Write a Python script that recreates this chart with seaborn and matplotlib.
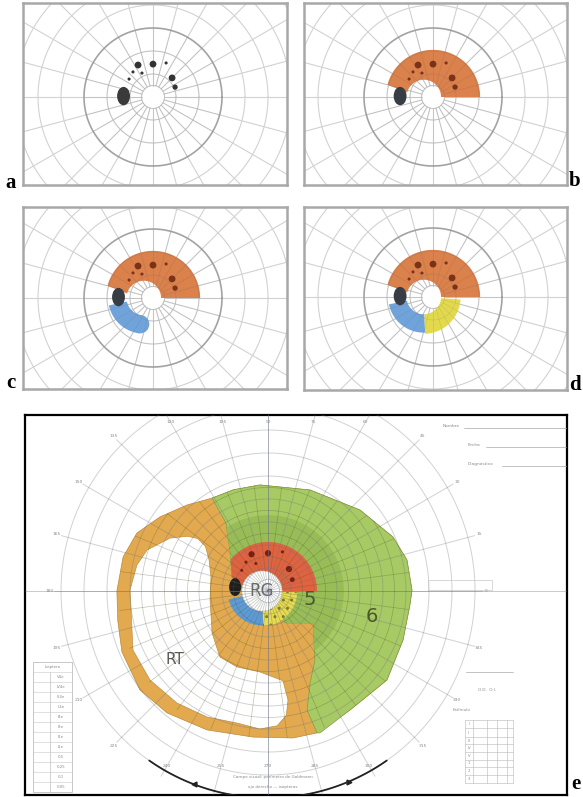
import numpy as np
import matplotlib
matplotlib.use("Agg")
import matplotlib.pyplot as plt
import seaborn as sns
from matplotlib.patches import Polygon, Ellipse, Circle, Rectangle

sns.set_theme(style="white")
plt.rcParams["font.family"] = ["DejaVu Sans"]

W, H = 583, 797
SCALE = 2.3  # px per degree of visual field

# --- small charts a-d (frame in px, fixation point in px) ---
PANEL_KEYS = ["a", "b", "c", "d"]
PANEL_BOX = [(23, 3, 287, 185), (304, 3, 567, 185), (23, 207, 287, 389), (304, 207, 567, 390)]
PANEL_CENTER = [(153, 97), (433, 97), (153, 298), (433, 297)]
PANEL_STAGE = [0, 1, 2, 3]
LABEL_POS = [(5, 188), (569, 186), (6, 388), (569, 390)]
BLIND_X = [-12.8, -14.3, -15.0, -14.3]

# central scotoma points (deg)
SCOTOMA_X = [-6.5, 0.0, 5.7, 8.3, 9.6, -10.4, -8.7, -4.8]
SCOTOMA_Y = [13.9, 14.3, 14.8, 8.3, 4.3, 7.8, 10.9, 10.4]
SCOTOMA_SIZE = [3, 3, 1, 3, 2, 1, 1, 1]

# zones of the small charts: superior (orange), inferonasal (blue), inferotemporal (yellow)
ZONE_START = [0, 192, 272]
ZONE_END = [165, 272, 356]
ZONE_END_C = 262
ZONE_R_OUT = [20.5, 15.5, 16.0]
HOLE_X, HOLE_R = -4.0, 7.5

# --- big chart e (deg) ---
E_BOX = (25, 415, 567, 795)
E_CENTER = (268, 591)
E_RINGS = [10, 20, 30, 40, 50, 60, 70, 80, 90]
E_ORANGE_OUTER = [(-24.3, 40.4), (-35.2, 37.4), (-47.0, 32.2), (-57.0, 25.2), (-63.0, 14.8),
                  (-65.7, 0.0), (-65.3, -13.0), (-63.5, -26.5), (-55.7, -43.0), (-43.9, -53.0),
                  (-26.5, -60.4), (-6.5, -63.5), (10.9, -63.9), (21.3, -61.7)]
E_GREEN_OUTER = [(22.6, -61.7), (35.7, -51.7), (51.7, -38.7), (58.7, -21.3), (61.7, -6.0),
                 (62.6, 0.4), (60.4, 13.5), (54.3, 23.5), (40.0, 35.2), (18.3, 43.9),
                 (-3.5, 46.1), (-15.0, 44.0), (-24.3, 40.4)]
E_GREEN_INNER = [(-24.3, 40.4), (-18.3, 29.6), (-16.5, 17.4), (-15.7, 6.0), (-12.0, 0.0),
                 (-3.0, 0.0), (4.0, -12.0), (8.0, -13.9), (19.6, -13.9), (20.4, -30.0),
                 (18.3, -40.0), (17.0, -51.7), (21.3, -61.7), (22.6, -61.7)]
E_RT_HOLE = [(-60.0, 0.4), (-58.7, -25.7), (-51.3, -38.7), (-39.6, -48.7), (-26.5, -54.8),
             (-13.5, -57.4), (-3.5, -60.0), (4.0, -58.6), (8.0, -54.0), (8.7, -47.4), (6.5, -39.0),
             (-3.5, -35.2), (-13.5, -33.0), (-20.9, -28.7), (-24.3, -18.3), (-25.2, -3.9),
             (-24.8, 6.1), (-25.6, 13.5), (-27.2, 19.4), (-30.5, 22.8), (-35.0, 23.8), (-42.6, 23.0),
             (-52.6, 17.8), (-57.0, 11.3)]
E_ZONE5_R = 33
E_RG_X, E_RG_R = -2.6, 8.7
E_RED = (0, 172, 21.3)
E_BLUE = (194, 272, 15.0)
E_YELLOW = (272, 358, 15.3)
E_BLIND = (-14.3, 1.7)
E_MERIDIAN_LABELS = list(range(0, 360, 15))

ORANGE_S = "#d97a42"
BLUE_S = "#6fa3da"
YELLOW_S = "#e2da4c"
ORANGE_E = "#e3a94f"
GREEN_E = "#a8ca64"
GREEN5_E = "#98bd57"
RED_E = "#e0623f"
BLUE_E = "#5d9bd6"
YELLOW_E = "#e6dc4f"


def px_axes(fig, box, zorder=1):
    x0, y0, x1, y1 = box
    return fig.add_axes([x0 / W, 1 - y1 / H, (x1 - x0) / W, (y1 - y0) / H], zorder=zorder)


def field_axes(fig, box, center):
    ax = px_axes(fig, box)
    x0, y0, x1, y1 = box
    cx, cy = center
    ax.set_xlim((x0 - cx) / SCALE, (x1 - cx) / SCALE)
    ax.set_ylim((cy - y1) / SCALE, (cy - y0) / SCALE)
    ax.set_xticks([])
    ax.set_yticks([])
    ax.set_facecolor("white")
    return ax


def band(a0, a1, r_out, r_in, c_out=(0, 0), c_in=(0, 0)):
    t = np.radians(np.linspace(a0, a1, 90))
    outer = np.column_stack([c_out[0] + r_out * np.cos(t), c_out[1] + r_out * np.sin(t)])
    inner = np.column_stack([c_in[0] + r_in * np.cos(t[::-1]), c_in[1] + r_in * np.sin(t[::-1])])
    return np.vstack([outer, inner])


def draw_grid(ax, rings, meridians, r_in, r_out, color, lw, alpha=1.0, zorder=1, clip=None):
    t = np.linspace(0, 2 * np.pi, 400)
    lines = []
    for r in rings:
        lines += ax.plot(r * np.cos(t), r * np.sin(t), color=color, lw=lw, alpha=alpha, zorder=zorder)
    for m in meridians:
        a = np.radians(m)
        lines += ax.plot([r_in * np.cos(a), r_out * np.cos(a)], [r_in * np.sin(a), r_out * np.sin(a)],
                         color=color, lw=lw, alpha=alpha, zorder=zorder)
    if clip is not None:
        for ln in lines:
            ln.set_clip_path(clip)


fig = plt.figure(figsize=(W / 100, H / 100), dpi=100)

# ---------------- panels a-d ----------------
for i, key in enumerate(PANEL_KEYS):
    ax = field_axes(fig, PANEL_BOX[i], PANEL_CENTER[i])
    draw_grid(ax, [5, 10, 20, 40, 50, 60, 70, 80], np.arange(0, 360, 15), 5, 85, "#d2d2d2", 0.8)
    draw_grid(ax, [30], [], 0, 0, "#a3a3a3", 1.2)
    stage = PANEL_STAGE[i]
    if stage >= 1:
        ax.add_patch(Polygon(band(ZONE_START[0], ZONE_END[0], ZONE_R_OUT[0], HOLE_R, (0, 0), (HOLE_X, 0)),
                             closed=True, fc=ORANGE_S, ec="none", alpha=0.95, zorder=3))
    if stage >= 2:
        end = ZONE_END_C if stage == 2 else ZONE_END[1]
        ax.add_patch(Polygon(band(ZONE_START[1], end, ZONE_R_OUT[1], HOLE_R, (HOLE_X, 0), (HOLE_X, 0)),
                             closed=True, fc=BLUE_S, ec="none", zorder=3))
        if stage == 2:
            rm = (ZONE_R_OUT[1] + HOLE_R) / 2
            a = np.radians(end)
            ax.add_patch(Circle((HOLE_X + rm * np.cos(a), rm * np.sin(a)), (ZONE_R_OUT[1] - HOLE_R) / 2,
                                fc=BLUE_S, ec="none", zorder=3))
    if stage >= 3:
        ax.add_patch(Polygon(band(ZONE_START[2], ZONE_END[2], ZONE_R_OUT[2], HOLE_R, (HOLE_X, 0), (HOLE_X, 0)),
                             closed=True, fc=YELLOW_S, ec="none", zorder=3))
    # faint grid showing through the shading
    draw_grid(ax, [5, 10, 20], np.arange(0, 360, 15), 5, 30, "#6a6a6a", 0.5, alpha=0.18, zorder=4)
    ax.add_patch(Ellipse((BLIND_X[i], 0.4), 5.6, 8.0, fc="#383c44" if stage else "#3a3a3a", ec="none", zorder=5))
    sns.scatterplot(x=SCOTOMA_X, y=SCOTOMA_Y, size=SCOTOMA_SIZE, sizes=(5, 24), legend=False,
                    color="#7a3218" if stage else "#333333", edgecolor="none", ax=ax, zorder=6)
    ax.set_xlabel("")
    ax.set_ylabel("")
    for sp in ax.spines.values():
        sp.set_color("#a8a8a8")
        sp.set_linewidth(1.8)

# ---------------- panel e ----------------
ax = field_axes(fig, E_BOX, E_CENTER)
union = Polygon(E_ORANGE_OUTER + E_GREEN_OUTER[1:], closed=True, fc=ORANGE_E, ec="#b88a3a", lw=0.5, zorder=2)
ax.add_patch(union)
green = Polygon(E_GREEN_OUTER + E_GREEN_INNER[1:], closed=True, fc=GREEN_E, ec="#7d9f45", lw=0.5, zorder=3)
ax.add_patch(green)
zone5 = Circle((0, 0), E_ZONE5_R, fc=GREEN5_E, ec="none", zorder=3.5)
ax.add_patch(zone5)
zone5.set_clip_path(green)
ax.add_patch(Polygon(E_RT_HOLE, closed=True, fc="white", ec="#c09040", lw=0.5, zorder=4))

red = Polygon(band(E_RED[0], E_RED[1], E_RED[2], E_RG_R, (0, 0), (E_RG_X, 0)), closed=True,
              fc=RED_E, ec="none", zorder=5)
ax.add_patch(red)
red.set_clip_path(green)
ax.add_patch(Polygon(band(E_BLUE[0], E_BLUE[1], E_BLUE[2], E_RG_R, (E_RG_X, 0), (E_RG_X, 0)),
                     closed=True, fc=BLUE_E, ec="none", zorder=5))
ax.add_patch(Polygon(band(E_YELLOW[0], E_YELLOW[1], E_YELLOW[2], E_RG_R, (E_RG_X, 0), (E_RG_X, 0)),
                     closed=True, fc=YELLOW_E, ec="#8a7a20", lw=0, hatch="..", zorder=5))
ax.add_patch(Circle((E_RG_X, 0), E_RG_R, fc="white", ec="#d0d0d0", lw=0.4, zorder=6))
ax.add_patch(Ellipse(E_BLIND, 5.2, 7.8, fc="#1e1e1e", ec="none", zorder=7))
sns.scatterplot(x=[v * 1.1 for v in SCOTOMA_X], y=[v * 1.15 for v in SCOTOMA_Y], size=SCOTOMA_SIZE,
                sizes=(5, 20), legend=False, color="#7a1d10", edgecolor="none", ax=ax, zorder=7)
ax.set_xlabel("")
ax.set_ylabel("")

# chart grid on top so it shows through the colours
draw_grid(ax, E_RINGS, np.arange(0, 360, 15), 0, 93, "#6e7282", 0.7, alpha=0.32, zorder=8)
draw_grid(ax, np.arange(5, 65, 10), np.arange(7.5, 360, 15), 5, 65, "#4f5a2e", 0.5, alpha=0.35,
          zorder=8, clip=union)
ax.axhline(0, color="#6e7282", lw=0.7, alpha=0.38, zorder=8)
ax.axvline(0, color="#6e7282", lw=0.7, alpha=0.38, zorder=8)
t = np.radians(np.linspace(235, 305, 100))
ax.plot(90 * np.cos(t), 90 * np.sin(t), color="#222222", lw=1.3, zorder=9)
for m, mk in [(249, "<"), (293, ">")]:
    a = np.radians(m)
    ax.plot(90 * np.cos(a), 90 * np.sin(a), marker=mk, color="#222222", ms=3.5, zorder=9)

for m in E_MERIDIAN_LABELS:
    a = np.radians(m)
    r = 95.0
    if np.sin(a) > 0:
        r = min(r, 73.5 / np.sin(a))
    elif np.sin(a) < 0:
        r = min(r, 76.0 / -np.sin(a))
    ax.text(r * np.cos(a), r * np.sin(a), str(m), fontsize=3.2, color="#8a8a8a",
            ha="center", va="center", zorder=9)

ax.text(E_RG_X, 0, "RG", fontsize=12, color="#6a6a6a", ha="center", va="center", zorder=10)
ax.text(18.3, -3.9, "5", fontsize=14, color="#485a2a", ha="center", va="center", zorder=10)
ax.text(45.2, -11.3, "6", fontsize=14, color="#485a2a", ha="center", va="center", zorder=10)
ax.text(-40.4, -29.6, "RT", fontsize=11, color="#5a5a5a", ha="center", va="center", zorder=10)
for sp in ax.spines.values():
    sp.set_color("black")
    sp.set_linewidth(1.6)

# ---------------- page overlay: labels, form fields, tables ----------------
page = px_axes(fig, (0, 0, W, H), zorder=20)
page.set_xlim(0, W)
page.set_ylim(H, 0)
page.axis("off")
page.patch.set_alpha(0)

for i, key in enumerate(PANEL_KEYS + ["e"]):
    x, y = (LABEL_POS + [(571, 789)])[i]
    page.text(x, y, key, fontsize=15, fontweight="bold", family=["Liberation Serif", "DejaVu Serif"],
              color="black", ha="left", va="baseline")

FORM_FIELDS = ["Nombre", "Fecha", "Diagnóstico"]
FORM_Y = [428, 447, 466]
FORM_X = [443, 468, 468]
for name, fx, fy in zip(FORM_FIELDS, FORM_X, FORM_Y):
    page.text(fx, fy, name, fontsize=3.2, color="#8a8a8a", ha="left", va="bottom")
    page.plot([fx + 5 * len(name) * 0.55 + 4, 566], [fy, fy], color="#a8a8a8", lw=0.5)

page.add_patch(Rectangle((428, 580), 64, 10, fill=False, ec="#c8c8c8", lw=0.5))
page.plot([466, 513], [672, 672], color="#a8a8a8", lw=0.5)
page.text(478, 690, "O.D.  O.I.", fontsize=3, color="#8a8a8a", ha="left", va="center")
page.text(453, 710, "Estímulo", fontsize=3, color="#8a8a8a", ha="left", va="center")

# left stimulus legend table
LEFT_ROWS = ["V4e", "IV4e", "III4e", "II4e", "I4e", "I3e", "I2e", "I1e", "0.5", "0.25", "0.1", "0.05"]
lx0, lx1, ly0, row_h = 33, 72, 662, 10
page.add_patch(Rectangle((lx0, ly0), lx1 - lx0, row_h * (len(LEFT_ROWS) + 1), fill=False, ec="#b0b0b0", lw=0.5))
page.plot([50, 50], [ly0 + row_h, ly0 + row_h * (len(LEFT_ROWS) + 1)], color="#c0c0c0", lw=0.5)
page.text((lx0 + lx1) / 2, ly0 + row_h / 2, "Isóptera", fontsize=2.8, color="#8a8a8a", ha="center", va="center")
for j, lab in enumerate(LEFT_ROWS):
    yy = ly0 + row_h * (j + 1)
    page.plot([lx0, lx1], [yy, yy], color="#c8c8c8", lw=0.4)
    page.text(61, yy + row_h / 2, lab, fontsize=2.8, color="#8a8a8a", ha="center", va="center")

# right grid table
RIGHT_COLS = [465, 473, 487, 497, 507, 513]
RIGHT_ROWS = [720, 728, 737, 744, 752, 760, 767, 775, 783]
for xx in RIGHT_COLS:
    page.plot([xx, xx], [RIGHT_ROWS[0], RIGHT_ROWS[-1]], color="#b8b8b8", lw=0.4)
for yy in RIGHT_ROWS:
    page.plot([RIGHT_COLS[0], RIGHT_COLS[-1]], [yy, yy], color="#b8b8b8", lw=0.4)
for j, lab in enumerate(["I", "II", "III", "IV", "V", "1", "2", "3"]):
    page.text(469, (RIGHT_ROWS[j] + RIGHT_ROWS[j + 1]) / 2, lab, fontsize=2.6, color="#8a8a8a",
              ha="center", va="center")

page.text(273, 777, "Campo visual: perímetro de Goldmann", fontsize=3, color="#8a8a8a", ha="center", va="center")
page.text(273, 787, "ojo derecho — isópteras", fontsize=3, color="#8a8a8a", ha="center", va="center")

fig.savefig("out.png", dpi=100)
